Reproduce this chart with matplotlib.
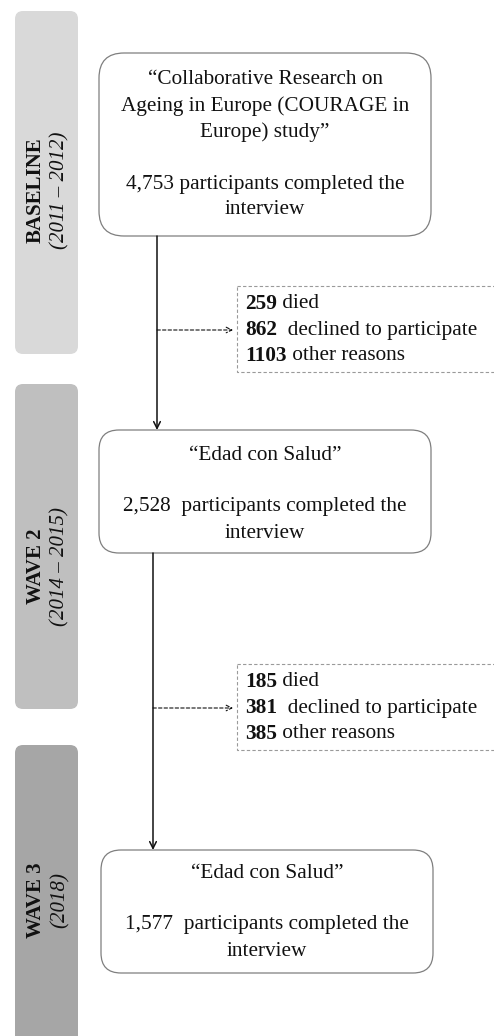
"""Flow diagram of participants across the three COURAGE / Edad con Salud waves."""
import matplotlib.pyplot as plt
from matplotlib.patches import FancyBboxPatch

# data
STAGES = ["BASELINE", "WAVE 2", "WAVE 3"]
YEARS = ["(2011 \u2013 2012)", "(2014 \u2013 2015)", "(2018)"]
STUDY_NAMES = [
    ["\u201cCollaborative Research on", "Ageing in Europe (COURAGE in", "Europe) study\u201d"],
    ["\u201cEdad con Salud\u201d"],
    ["\u201cEdad con Salud\u201d"],
]
COMPLETED = ["4,753", "2,528", "1,577"]
DIED = ["259", "185"]
DECLINED = ["862", "381"]
OTHER = ["1103", "385"]

W, H = 494, 1036
SERIF = "Liberation Serif"
FS = 15.3
SIDE_FS = 15

# layout (pixel coordinates, y down)
BAR_COLORS = ["#d9d9d9", "#bfbfbf", "#a6a6a6"]
BARS = [(15, 11, 63, 343), (15, 384, 63, 325), (15, 745, 63, 320)]
LABEL_Y = [190, 566, 900]
BOXES = [(99, 53, 332, 183, 25), (99, 430, 332, 123, 20), (101, 850, 332, 123, 20)]
BOX_FIRST_LINE = [80, 455, 873]
COUNT_GAP = [" ", "  ", "  "]
LINE_STEP = 26
FLOW_X = [157, 153]
EXCL_BOX = [(237, 286, 280, 86), (237, 664, 280, 86)]
EXCL_Y = [304, 682]


def main() -> None:
    fig = plt.figure(figsize=(W / 100, H / 100), dpi=100)
    ax = fig.add_axes([0, 0, 1, 1])
    ax.set_xlim(0, W)
    ax.set_ylim(H, 0)
    ax.axis("off")

    # side bars with stage labels
    for (x, y, w, h), col, stage, yrs, ly in zip(BARS, BAR_COLORS, STAGES, YEARS, LABEL_Y):
        ax.add_patch(FancyBboxPatch((x, y), w, h, boxstyle="round,pad=0,rounding_size=8",
                                    fc=col, ec="none"))
        ax.text(36, ly, stage, rotation=90, ha="center", va="center",
                family=SERIF, fontsize=SIDE_FS, fontweight="bold", color="#111111")
        ax.text(60, ly, yrs, rotation=90, ha="center", va="center",
                family=SERIF, fontsize=SIDE_FS, style="italic", color="#111111")

    # main boxes
    for i, (x, y, w, h, r) in enumerate(BOXES):
        ax.add_patch(FancyBboxPatch((x, y), w, h, boxstyle=f"round,pad=0,rounding_size={r}",
                                    fc="white", ec="#7f7f7f", lw=0.9))
        cx = x + w / 2
        lines = STUDY_NAMES[i] + [""] + [
            f"{COMPLETED[i]}{COUNT_GAP[i]}participants completed the", "interview"]
        ly = BOX_FIRST_LINE[i]
        for line in lines:
            if line:
                ax.text(cx, ly, line, ha="center", va="center", family=SERIF,
                        fontsize=FS, color="#111111")
            ly += LINE_STEP

    # vertical flow arrows
    for i, fx in enumerate(FLOW_X):
        top = BOXES[i][1] + BOXES[i][3]
        bottom = BOXES[i + 1][1]
        ax.annotate("", xy=(fx, bottom), xytext=(fx, top),
                    arrowprops=dict(arrowstyle="->", color="#111111", lw=1.1,
                                    shrinkA=0, shrinkB=0, mutation_scale=12))

    # exclusion boxes
    for i, (x, y, w, h) in enumerate(EXCL_BOX):
        ax.add_patch(plt.Rectangle((x, y), w, h, fc="white", ec="#9a9a9a",
                                   lw=0.8, ls=(0, (3, 2))))
        ay = EXCL_Y[i] + LINE_STEP
        ax.annotate("", xy=(x - 4, ay), xytext=(FLOW_X[i], ay),
                    arrowprops=dict(arrowstyle="->", color="#111111", lw=0.8,
                                    ls=(0, (3, 2)), shrinkA=0, shrinkB=0,
                                    mutation_scale=10))
        rows = [(DIED[i], " died"), (DECLINED[i], "  declined to participate"),
                (OTHER[i], " other reasons")]
        for j, (num, rest) in enumerate(rows):
            t = ax.text(x + 8, EXCL_Y[i] + j * LINE_STEP, num, ha="left", va="center",
                        family=SERIF, fontsize=FS, fontweight="bold", color="#111111")
            ax.annotate(rest, xy=(1, 0.5), xycoords=t, ha="left", va="center",
                        family=SERIF, fontsize=FS, color="#111111")

    fig.savefig("out.png", dpi=100)
    plt.close(fig)


if __name__ == "__main__":
    main()
